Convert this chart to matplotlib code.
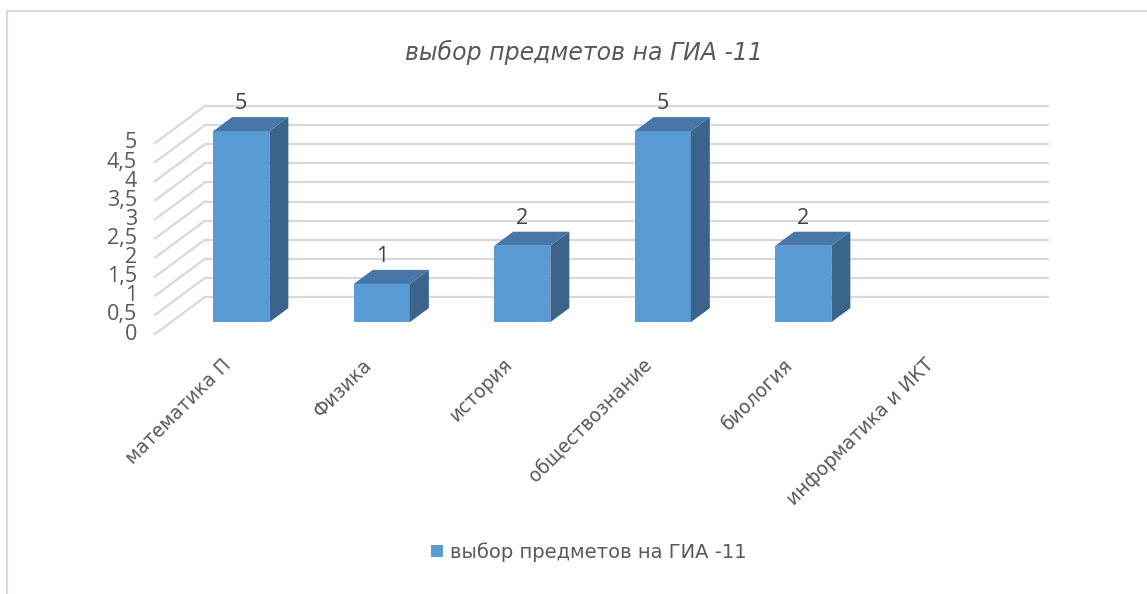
import matplotlib
matplotlib.use("Agg")
import matplotlib.pyplot as plt
from matplotlib.patches import Polygon
from matplotlib.lines import Line2D
import numpy as np

# data
categories = ["математика П", "Физика", "история", "обществознание",
              "биология", "информатика и ИКТ"]
values = [5, 1, 2, 5, 2, 0]
series_name = "выбор предметов на ГИА -11"
title = "выбор предметов на ГИА -11"
yticks = np.arange(0, 5.01, 0.5)
ytick_labels = ["0", "0,5", "1", "1,5", "2", "2,5", "3", "3,5", "4", "4,5", "5"]

# colours
front_col = "#5B9BD5"
top_col = "#4777A9"
side_col = "#3A6489"
grid_col = "#D9D9D9"
text_col = "#595959"

plt.rcParams["font.family"] = ["Open Sans", "DejaVu Sans"]

W, H = 1147, 594
fig = plt.figure(figsize=(W / 100, H / 100), dpi=100)
fig.patch.set_facecolor("white")

# front floor plane of the 3d box, in pixels
x0, x1 = 155, 998
y0, y1 = 260, 451
ax = fig.add_axes([x0 / W, y0 / H, (x1 - x0) / W, (y1 - y0) / H])
ax.set_xlim(-0.5, 5.5)
ax.set_ylim(0, 5)
ax.axis("off")

# depth of the box (pixels -> data units)
px_x = (x1 - x0) / 6.0
px_y = (y1 - y0) / 5.0
DX = 50 / px_x
DY = 37 / px_y
f1, f2 = 0.32, 0.70   # bar front / back depth
bw = 0.4

# back wall gridlines and left wall diagonals
for v in yticks:
    ax.plot([-0.5 + DX, 5.5 + DX], [v + DY, v + DY], color=grid_col,
            lw=1.6, clip_on=False, zorder=1)
    ax.plot([-0.5, -0.5 + DX], [v, v + DY], color=grid_col,
            lw=1.6, clip_on=False, zorder=1)

xs = np.arange(len(categories))

# bars: front faces
bars = ax.bar(xs + f1 * DX, values, width=bw, bottom=f1 * DY,
              color=front_col, zorder=3, clip_on=False, label=series_name)

# top and side faces
for x, v in zip(xs, values):
    if v == 0:
        continue
    l = x + f1 * DX - bw / 2
    r = l + bw
    b = f1 * DY
    t = v + f1 * DY
    ddx = (f2 - f1) * DX
    ddy = (f2 - f1) * DY
    top = Polygon([[l, t], [r, t], [r + ddx, t + ddy], [l + ddx, t + ddy]],
                  closed=True, facecolor=top_col, edgecolor="none",
                  zorder=3, clip_on=False)
    side = Polygon([[r, b], [r + ddx, b + ddy], [r + ddx, t + ddy], [r, t]],
                   closed=True, facecolor=side_col, edgecolor="none",
                   zorder=3, clip_on=False)
    ax.add_patch(top)
    ax.add_patch(side)
    ax.annotate(str(v), (x + f1 * DX, v + f2 * DY), xytext=(0, 3),
                textcoords="offset pixels", ha="center", va="bottom",
                fontsize=15.5, color="#404040", zorder=4,
                annotation_clip=False)

# value axis labels
for v, lab in zip(yticks, ytick_labels):
    ax.annotate(lab, (-0.5, v), xytext=(-18, 0), textcoords="offset pixels",
                ha="right", va="center", fontsize=15.5, color=text_col,
                annotation_clip=False)

# category labels
for x, lab in zip(xs, categories):
    ax.annotate(lab, (x, 0), xytext=(3, -28), textcoords="offset pixels",
                ha="right", va="center", rotation=45, rotation_mode="anchor",
                fontsize=13.5, color=text_col, family="DejaVu Sans",
                annotation_clip=False)

fig.text(584 / W, 1 - 52 / H, title, ha="center", va="center",
         fontsize=17, style="italic", color=text_col, family="DejaVu Sans")

fig.legend(handles=[bars], loc="center", bbox_to_anchor=(589 / W, 42 / H),
           frameon=False, handlelength=0.6, handleheight=0.6,
           handletextpad=0.4, prop={"family": "DejaVu Sans", "size": 14},
           labelcolor=text_col)

# chart border (left and top only visible)
fig.add_artist(Line2D([7 / W, 7 / W], [0, 1 - 11 / H], color="#D9D9D9", lw=1.5))
fig.add_artist(Line2D([7 / W, 1], [1 - 11 / H, 1 - 11 / H], color="#D9D9D9", lw=1.5))

fig.savefig("out.png", dpi=100)
